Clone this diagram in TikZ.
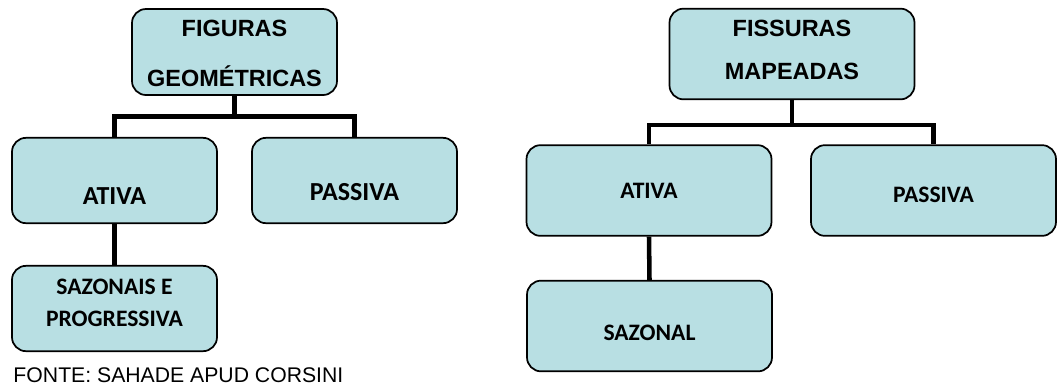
\documentclass[tikz,border=0pt]{standalone}
\usepackage{fontspec}
\setmainfont{Liberation Sans}
\newfontfamily\calibri{Carlito}
\definecolor{boxfill}{RGB}{184,223,227}

\tikzset{every picture/.style={line width=0.75pt}}
\tikzset{
  cbox/.style={draw=black, line width=1.3pt, fill=boxfill, rounded corners=10.5pt, inner sep=0pt},
  boxL/.style={cbox, minimum width=153.75pt, minimum height=64pt},
  boxR/.style={cbox, minimum width=183.75pt, minimum height=68pt},
  conn/.style={line width=3.4pt, line join=miter},
  headtxt/.style={inner sep=0pt, align=center, font=\bfseries\fontsize{17.6pt}{#1}\selectfont},
  leaftxt/.style={inner sep=0pt, align=center, font=\calibri\bfseries\fontsize{#1}{23.8pt}\selectfont},
}

\begin{document}
\begin{tikzpicture}[x=0.75pt,y=0.75pt,yscale=-1,xscale=1]
\useasboundingbox (0,0) rectangle (1057,387);

%Rounded Rect: left tree
\node [boxL, minimum height=64.5pt] (fig) at (234.5,52) {};
\node [boxL] (ativaL) at (114.5,180.5) {};
\node [boxL] (passL) at (354.5,180.5) {};
\node [boxL] (sazL) at (114.5,308.5) {};

%Rounded Rect: right tree
\node [boxR] (fis) at (792,54) {};
\node [boxR] (ativaR) at (649,190.5) {};
\node [boxR] (passR) at (933.5,190.5) {};
\node [boxR] (sazR) at (649.5,326) {};

%Straight Lines
\coordinate (jL) at (234.5,116.5);
\draw [conn] (fig.south) -- (jL) -| (ativaL.north);
\draw [conn] (jL) -| (passL.north);
\draw [conn] (ativaL.south) -- (sazL.north);

\coordinate (jR) at (792,125);
\draw [conn] (fis.south) -- (jR) -| (ativaR.north);
\draw [conn] (jR) -| (passR.north);
\draw [conn] (ativaR.south) -- (sazR.north);

% Text Node
\node [headtxt=37.3pt] (tfig) at (234.5,53.5) {FIGURAS\\GEOMÉTRICAS};
% Text Node
\node [leaftxt=19.5pt] (tativaL) at (114.5,196) {ATIVA};
% Text Node
\node [leaftxt=19.5pt] (tpassL) at (354.5,192) {PASSIVA};
% Text Node
\node [leaftxt=17.7pt] (tsazL) at (114.5,302.5) {SAZONAIS E\\PROGRESSIVA};

% Text Node
\node [headtxt=32.6pt] (tfis) at (792,50) {FISSURAS\\MAPEADAS};
% Text Node
\node [leaftxt=17.7pt] (tativaR) at (649,191) {ATIVA};
% Text Node
\node [leaftxt=17.7pt] (tpassR) at (933.5,195) {PASSIVA};
% Text Node
\node [leaftxt=17.7pt] (tsazR) at (649.5,333) {SAZONAL};

% Text Node
\node [anchor=base west, inner sep=0pt, font=\fontsize{15.9pt}{19pt}\selectfont] (fonte) at (13,382.7) {FONTE: SAHADE APUD CORSINI};

\end{tikzpicture}
\end{document}
